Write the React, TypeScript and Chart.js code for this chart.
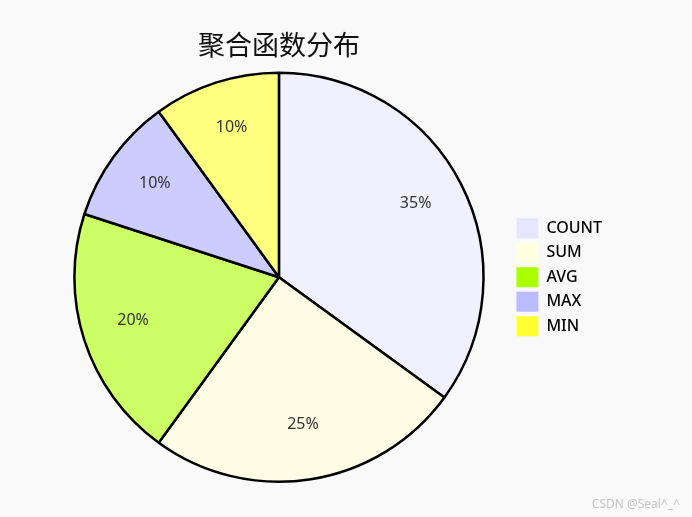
import { useEffect, useRef } from "react";
import { Chart, registerables } from "chart.js";
import type { Plugin } from "chart.js";

Chart.register(...registerables);

const categories = ["COUNT", "SUM", "AVG", "MAX", "MIN"];
const values = [35, 25, 20, 10, 10];
const sliceColors = ["#f0f0ff", "#fdfde5", "#ccff66", "#ccccff", "#ffff80"];
const legendColors = ["#e6e6ff", "#ffffe0", "#aaff00", "#bbbbff", "#ffff33"];
const title = "聚合函数分布";

// percentage text drawn inside each slice
const sliceLabels: Plugin<"pie"> = {
  id: "sliceLabels",
  afterDatasetsDraw(chart) {
    const ctx = chart.ctx;
    const meta = chart.getDatasetMeta(0);
    const total = values.reduce((a, b) => a + b, 0);
    ctx.save();
    ctx.font = "16px 'Noto Sans', sans-serif";
    ctx.fillStyle = "#333";
    ctx.textAlign = "center";
    ctx.textBaseline = "middle";
    meta.data.forEach((el: any, i) => {
      const { x, y, startAngle, endAngle, outerRadius } = el.getProps(
        ["x", "y", "startAngle", "endAngle", "outerRadius"],
        true
      );
      const mid = (startAngle + endAngle) / 2;
      const r = outerRadius * 0.75;
      const pct = Math.round((values[i] / total) * 100);
      ctx.fillText(
        pct + "%",
        x + Math.cos(mid) * r,
        y + Math.sin(mid) * r - 4
      );
    });
    ctx.restore();
  },
};

export default function App() {
  const chartRef = useRef<HTMLCanvasElement | null>(null);
  const chartInstance = useRef<Chart | null>(null);

  useEffect(() => {
    document.body.style.margin = "0";
    if (!chartRef.current) return;
    if (chartInstance.current) chartInstance.current.destroy();

    chartInstance.current = new Chart(chartRef.current, {
      type: "pie",
      data: {
        labels: categories,
        datasets: [
          {
            data: values,
            backgroundColor: sliceColors,
            borderColor: "#000",
            borderWidth: 2.5,
          },
        ],
      },
      options: {
        animation: false,
        responsive: true,
        maintainAspectRatio: false,
        layout: {
          padding: { left: 46, right: 80, top: 20, bottom: 34 },
        },
        plugins: {
          title: {
            display: true,
            text: title,
            fullSize: false,
            color: "#111",
            font: {
              family: "'Noto Sans CJK SC', sans-serif",
              size: 27,
              weight: "normal",
            },
            padding: { top: 9, bottom: 10 },
          },
          legend: {
            position: "right",
            fullSize: false,
            labels: {
              boxWidth: 22,
              boxHeight: 20,
              padding: 4.5,
              color: "#000",
              font: {
                family: "'Noto Sans', sans-serif",
                size: 16,
                weight: 500,
              },
              generateLabels: () =>
                categories.map((c, i) => ({
                  text: c,
                  fillStyle: legendColors[i],
                  strokeStyle: legendColors[i],
                  lineWidth: 0,
                  hidden: false,
                  index: i,
                })),
            },
          },
          tooltip: { enabled: false },
        },
      },
      plugins: [sliceLabels],
    });

    return () => {
      if (chartInstance.current) {
        chartInstance.current.destroy();
        chartInstance.current = null;
      }
    };
  }, []);

  return (
    <div
      style={{
        position: "relative",
        width: 692,
        height: 517,
        background: "#f9f9f9",
      }}
    >
      <canvas ref={chartRef} />
      <span
        style={{
          position: "absolute",
          right: 12,
          bottom: 5,
          fontFamily: "'Noto Sans', sans-serif",
          fontSize: 12,
          color: "#c4c4c4",
        }}
      >
        CSDN @Seal^_^
      </span>
    </div>
  );
}
